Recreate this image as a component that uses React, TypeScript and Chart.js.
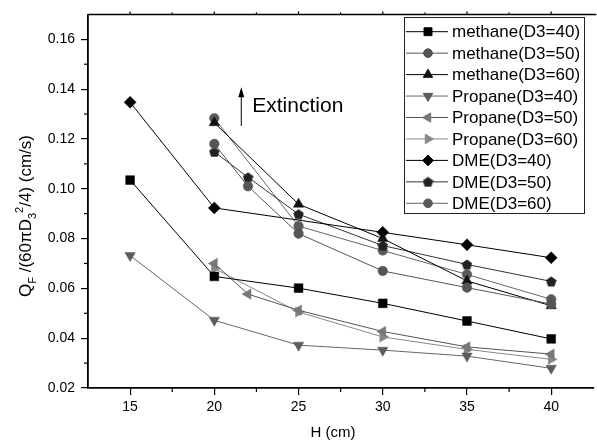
import React, { useEffect, useRef } from "react";
import { Chart, registerables } from "chart.js";
import { drawPoint } from "chart.js/helpers";
Chart.register(...registerables);

// ---------- data ----------
const seriesLabels = [
  "methane(D3=40)",
  "methane(D3=50)",
  "methane(D3=60)",
  "Propane(D3=40)",
  "Propane(D3=50)",
  "Propane(D3=60)",
  "DME(D3=40)",
  "DME(D3=50)",
  "DME(D3=60)",
];

const methane40H = [15, 20, 25, 30, 35, 40];
const methane40Q = [0.1035, 0.0648, 0.0601, 0.054, 0.0469, 0.0397];
const methane50H = [20, 22, 25, 30, 35, 40];
const methane50Q = [0.118, 0.101, 0.082, 0.067, 0.0603, 0.0537];
const methane60H = [20, 25, 30, 35, 40];
const methane60Q = [0.1265, 0.0938, 0.08, 0.063, 0.053];
const propane40H = [15, 20, 25, 30, 35, 40];
const propane40Q = [0.0732, 0.0472, 0.0372, 0.0352, 0.0328, 0.0279];
const propane50H = [20, 22, 25, 30, 35, 40];
const propane50Q = [0.07, 0.0577, 0.0512, 0.0427, 0.0365, 0.0336];
const propane60H = [20, 25, 30, 35, 40];
const propane60Q = [0.068, 0.0505, 0.0405, 0.0355, 0.0315];
const dme40H = [15, 20, 30, 35, 40];
const dme40Q = [0.1347, 0.0923, 0.0825, 0.0775, 0.0723];
const dme50H = [20, 22, 25, 30, 35, 40];
const dme50Q = [0.1148, 0.1046, 0.0898, 0.0772, 0.0696, 0.0628];
const dme60H = [20, 25, 30, 35, 40];
const dme60Q = [0.1283, 0.085, 0.0752, 0.0656, 0.0556];

const xMajorTicks = [15, 20, 25, 30, 35, 40];
const xMinorTicks = [17.5, 22.5, 27.5, 32.5, 37.5];
const yMajorTicks = [0.02, 0.04, 0.06, 0.08, 0.1, 0.12, 0.14, 0.16];
const yMinorTicks = [0.03, 0.05, 0.07, 0.09, 0.11, 0.13, 0.15];

const xTitle = "H (cm)";
const annotationText = "Extinction";
// arrow anchored in data coordinates: [H, Q from, Q to]
const arrowH = 21.6;
const arrowFrom = 0.1252;
const arrowTo = 0.1408;

const FONT = '"Liberation Sans", Arial, sans-serif';

function makePentagon(color: string, size: number) {
  const c = document.createElement("canvas");
  c.width = size;
  c.height = size;
  const ctx = c.getContext("2d")!;
  const r = size / 2;
  const shift = (r - r * Math.cos(Math.PI / 5)) / 2;
  ctx.beginPath();
  for (let i = 0; i < 5; i++) {
    const a = -Math.PI / 2 + (i * 2 * Math.PI) / 5;
    const px = r + r * Math.cos(a);
    const py = r + shift + r * Math.sin(a);
    if (i === 0) ctx.moveTo(px, py);
    else ctx.lineTo(px, py);
  }
  ctx.closePath();
  ctx.fillStyle = color;
  ctx.fill();
  return c;
}

function pts(h: number[], q: number[]) {
  return h.map((x, i) => ({ x, y: q[i] }));
}

export default function App() {
  const ref = useRef<HTMLCanvasElement>(null);

  useEffect(() => {
    const canvas = ref.current!;
    const pent = makePentagon("#222", 11);

    const styles = [
      { line: "#000", mark: "#000", style: "rect", r: 6.2, rot: 0 },
      { line: "#555", mark: "#555", style: "circle", r: 4.8, rot: 0 },
      { line: "#000", mark: "#111", style: "triangle", r: 6, rot: 0 },
      { line: "#666", mark: "#5c5c5c", style: "triangle", r: 6, rot: 180 },
      { line: "#555", mark: "#777", style: "triangle", r: 6, rot: 270 },
      { line: "#888", mark: "#888", style: "triangle", r: 6, rot: 90 },
      { line: "#000", mark: "#000", style: "rectRot", r: 6, rot: 0 },
      { line: "#333", mark: "#222", style: pent as any, r: 5.5, rot: 0 },
      { line: "#666", mark: "#5a5a5a", style: "circle", r: 4.8, rot: 0 },
    ];
    const dataArr = [
      pts(methane40H, methane40Q),
      pts(methane50H, methane50Q),
      pts(methane60H, methane60Q),
      pts(propane40H, propane40Q),
      pts(propane50H, propane50Q),
      pts(propane60H, propane60Q),
      pts(dme40H, dme40Q),
      pts(dme50H, dme50Q),
      pts(dme60H, dme60Q),
    ];

    const datasets = seriesLabels.map((label, i) => ({
      label,
      data: dataArr[i],
      borderColor: styles[i].line,
      backgroundColor: styles[i].mark,
      pointBackgroundColor: styles[i].mark,
      pointBorderColor: styles[i].mark,
      pointBorderWidth: 0.5,
      pointStyle: styles[i].style,
      pointRotation: styles[i].rot,
      pointRadius: styles[i].r,
      borderWidth: 1,
      tension: 0,
      fill: false,
    }));

    const decorPlugin = {
      id: "decor",
      afterDraw(chart: any) {
        const { ctx, chartArea: a } = chart;
        const x = chart.scales.x;
        const y = chart.scales.y;
        ctx.save();
        ctx.strokeStyle = "#000";
        ctx.fillStyle = "#000";
        // top frame
        ctx.lineWidth = 1.5;
        ctx.beginPath();
        ctx.moveTo(a.left, a.top);
        ctx.lineTo(a.right + 3, a.top);
        ctx.stroke();
        // minor ticks
        ctx.lineWidth = 1.2;
        const seg = (x1: number, y1: number, x2: number, y2: number) => {
          ctx.beginPath();
          ctx.moveTo(x1, y1);
          ctx.lineTo(x2, y2);
          ctx.stroke();
        };
        xMinorTicks.forEach((v) => {
          const px = x.getPixelForValue(v);
          seg(px, a.bottom, px, a.bottom + 4);
          seg(px, a.top, px, a.top - 2);
        });
        xMajorTicks.forEach((v) => {
          const px = x.getPixelForValue(v);
          seg(px, a.top, px, a.top - 3);
        });
        yMinorTicks.forEach((v) => {
          const py = y.getPixelForValue(v);
          seg(a.left - 4, py, a.left, py);
        });

        // legend
        const lx = 404, ly = 17, lw = 180, lh = 196;
        ctx.lineWidth = 1;
        ctx.strokeStyle = "#222";
        ctx.fillStyle = "#fff";
        ctx.fillRect(lx, ly, lw, lh);
        ctx.strokeRect(lx + 0.5, ly + 0.5, lw, lh);
        ctx.font = `17px ${FONT}`;
        ctx.textBaseline = "middle";
        ctx.textAlign = "left";
        chart.data.datasets.forEach((ds: any, i: number) => {
          const ry = 31.7 + i * 21.45;
          ctx.strokeStyle = ds.borderColor;
          ctx.lineWidth = 1;
          seg(406, ry, 448, ry);
          ctx.fillStyle = ds.pointBackgroundColor;
          ctx.strokeStyle = ds.pointBorderColor;
          drawPoint(
            ctx,
            {
              pointStyle: ds.pointStyle,
              rotation: ds.pointRotation,
              radius: ds.pointRadius * 0.9,
              borderWidth: 0.5,
            } as any,
            428,
            ry
          );
          ctx.fillStyle = "#000";
          ctx.fillText(ds.label, 452, ry + 1);
        });

        // extinction arrow
        const ax = x.getPixelForValue(arrowH);
        const ay1 = y.getPixelForValue(arrowFrom);
        const ay2 = y.getPixelForValue(arrowTo);
        ctx.strokeStyle = "#000";
        ctx.fillStyle = "#000";
        ctx.lineWidth = 1;
        seg(ax, ay1, ax, ay2 + 6);
        ctx.beginPath();
        ctx.moveTo(ax, ay2);
        ctx.lineTo(ax - 3, ay2 + 10);
        ctx.lineTo(ax + 3, ay2 + 10);
        ctx.closePath();
        ctx.fill();
        ctx.font = `21px ${FONT}`;
        ctx.textBaseline = "middle";
        ctx.fillText(annotationText, ax + 11, (ay1 + ay2) / 2);

        // x title
        ctx.font = `15px ${FONT}`;
        ctx.textAlign = "center";
        ctx.textBaseline = "alphabetic";
        ctx.fillText(xTitle, 333, 437);

        // y title (rich text, rotated)
        const parts = [
          { t: "Q", k: "n" },
          { t: "F", k: "sub" },
          { t: " /(60\u03C0D", k: "n" },
          { t: "3", k: "sub" },
          { t: "2", k: "sup" },
          { t: "/4) (cm/s)", k: "n" },
        ];
        const fs = (k: string) => (k === "n" ? 17 : 11);
        const dy = (k: string) => (k === "sub" ? 5 : k === "sup" ? -8 : 0);
        let W = 0;
        parts.forEach((p) => {
          ctx.font = `${fs(p.k)}px ${FONT}`;
          W += ctx.measureText(p.t).width;
        });
        ctx.translate(31, 216);
        ctx.rotate(-Math.PI / 2);
        ctx.textAlign = "left";
        let cx = -W / 2;
        parts.forEach((p) => {
          ctx.font = `${fs(p.k)}px ${FONT}`;
          ctx.fillText(p.t, cx, dy(p.k));
          cx += ctx.measureText(p.t).width;
        });
        ctx.restore();
      },
    };

    const chart = new Chart(canvas, {
      type: "line",
      data: { datasets: datasets as any },
      plugins: [decorPlugin],
      options: {
        animation: false,
        responsive: false,
        maintainAspectRatio: false,
        layout: { padding: { top: 12, right: 1.5, left: 0, bottom: 0 } },
        plugins: { legend: { display: false }, tooltip: { enabled: false } },
        font: { family: FONT },
        scales: {
          x: {
            type: "linear",
            min: 12.5,
            max: 42.5,
            afterFit: (s: any) => {
              s.height = 56;
            },
            afterBuildTicks: (s: any) => {
              s.ticks = xMajorTicks.map((v) => ({ value: v }));
            },
            grid: {
              display: true,
              drawOnChartArea: false,
              drawTicks: true,
              tickLength: 7,
              color: "#000",
              lineWidth: 1.2,
            },
            border: { display: true, color: "#000", width: 1.8 },
            ticks: {
              color: "#000",
              font: { size: 14, family: FONT },
              padding: 4,
              maxRotation: 0,
              autoSkip: false,
            },
          },
          y: {
            type: "linear",
            min: 0.02,
            max: 0.17,
            afterFit: (s: any) => {
              s.width = 88;
            },
            afterBuildTicks: (s: any) => {
              s.ticks = yMajorTicks.map((v) => ({ value: v }));
            },
            grid: {
              display: true,
              drawOnChartArea: false,
              drawTicks: true,
              tickLength: 7,
              color: "#000",
              lineWidth: 1.2,
            },
            border: { display: true, color: "#000", width: 1.8 },
            ticks: {
              color: "#000",
              font: { size: 14, family: FONT },
              padding: 6,
              autoSkip: false,
              callback: (v: any) => Number(v).toFixed(2),
            },
          },
        },
      } as any,
    });
    return () => chart.destroy();
  }, []);

  return (
    <div style={{ position: "fixed", left: 0, top: 0, width: 600, height: 444, background: "#fff" }}>
      <canvas ref={ref} width={600} height={444} style={{ display: "block" }} />
    </div>
  );
}
